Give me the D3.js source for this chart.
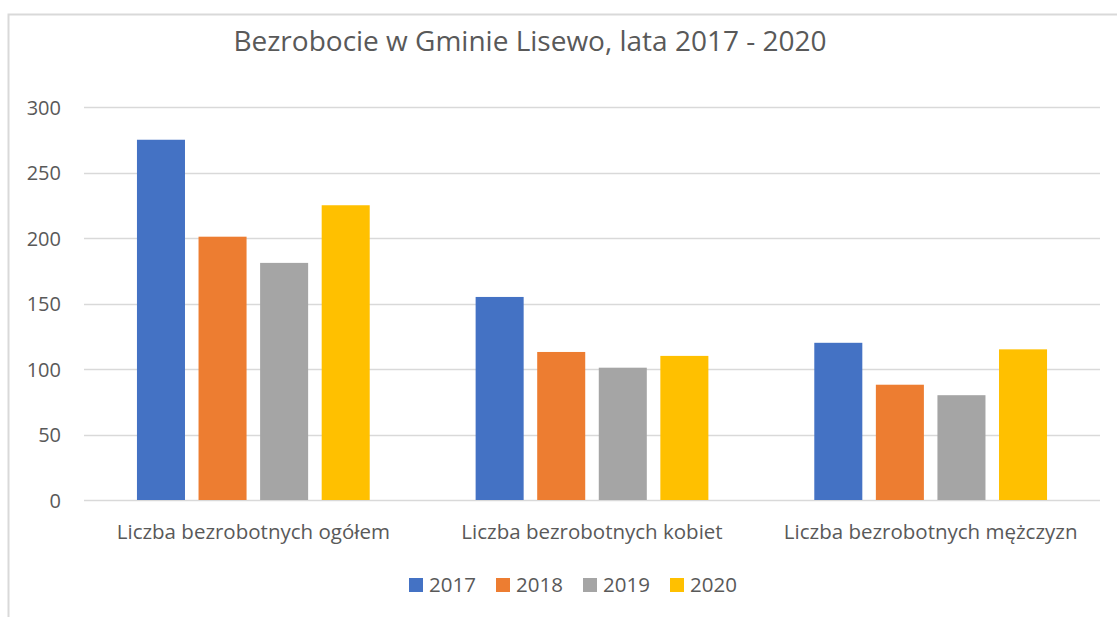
<!DOCTYPE html>
<html>
<head>
<meta charset="utf-8">
<script src="https://cdn.jsdelivr.net/npm/d3@7"></script>
<style>
html,body{margin:0;padding:0;background:#fff;}
svg{display:block;}
text{font-family:"Open Sans","Segoe UI",sans-serif;fill:#595959;}
</style>
</head>
<body>
<svg id="chart" width="1117" height="617"></svg>
<script>
const title = "Bezrobocie w Gminie Lisewo, lata 2017 - 2020";
const categories = ["Liczba bezrobotnych ogółem", "Liczba bezrobotnych kobiet", "Liczba bezrobotnych mężczyzn"];
const seriesNames = ["2017", "2018", "2019", "2020"];
const values2017 = [275, 155, 120];
const values2018 = [201, 113, 88];
const values2019 = [181, 101, 80];
const values2020 = [225, 110, 115];
const colors = ["#4472C4", "#ED7D31", "#A5A5A5", "#FFC000"];
const yTicks = [0, 50, 100, 150, 200, 250, 300];

const series = [values2017, values2018, values2019, values2020];
const svg = d3.select("#chart");

// chart border
svg.append("rect").attr("x", 8.5).attr("y", 14.5).attr("width", 1200).attr("height", 700)
  .attr("fill", "none").attr("stroke", "#d9d9d9").attr("stroke-width", 2);

const pLeft = 84, pRight = 1100, pTop = 107, pBottom = 500;
const y = d3.scaleLinear().domain([0, 300]).range([pBottom, pTop]);
const x0 = d3.scaleBand().domain(categories).range([pLeft, pRight]).paddingInner(0).paddingOuter(0);
const x1 = d3.scaleBand().domain(seriesNames).range([0, x0.bandwidth()]).paddingInner(0.22).paddingOuter(0.86);

// gridlines
svg.append("g").selectAll("line").data(yTicks).join("line")
  .attr("x1", pLeft).attr("x2", pRight)
  .attr("y1", d => Math.round(y(d)) + 0.5).attr("y2", d => Math.round(y(d)) + 0.5)
  .attr("stroke", "#d9d9d9").attr("stroke-width", 1.5);

// y axis labels
const yAxis = d3.axisLeft(y).tickValues(yTicks).tickSize(0).tickPadding(0);
const ya = svg.append("g").attr("transform", `translate(61,0)`).call(yAxis);
ya.select(".domain").remove();
ya.selectAll("text").attr("font-size", 20).attr("fill", "#595959")
  .style("font-family", '"Open Sans",sans-serif').attr("dy", "0.35em");

// bars
const groups = svg.append("g").selectAll("g").data(categories).join("g")
  .attr("transform", c => `translate(${x0(c)},0)`);
groups.selectAll("rect").data((c, ci) => seriesNames.map((s, si) => ({s, si, v: series[si][ci]})))
  .join("rect")
  .attr("x", d => x1(d.s)).attr("width", x1.bandwidth())
  .attr("y", d => y(d.v)).attr("height", d => y(0) - y(d.v))
  .attr("fill", d => colors[d.si]);

// x axis labels
const xAxis = d3.axisBottom(x0).tickSize(0).tickPadding(0);
const xa = svg.append("g").attr("transform", `translate(0,${pBottom})`).call(xAxis);
xa.select(".domain").remove();
xa.selectAll("text").attr("font-size", 20.5).attr("fill", "#595959")
  .style("font-family", '"Open Sans",sans-serif').attr("y", 39).attr("dy", 0);

// title
svg.append("text").attr("x", 530).attr("y", 51).attr("text-anchor", "middle")
  .attr("font-size", 28).style("font-family", '"Open Sans",sans-serif').attr("fill", "#595959")
  .text(title);

// legend
const legendX = [409, 496, 583, 670];
const lg = svg.append("g").selectAll("g").data(seriesNames).join("g")
  .attr("transform", (d, i) => `translate(${legendX[i]},578)`);
lg.append("rect").attr("width", 14).attr("height", 14).attr("fill", (d, i) => colors[i]);
lg.append("text").attr("x", 20).attr("y", 7).attr("dy", "0.35em").attr("font-size", 20.5)
  .style("font-family", '"Open Sans",sans-serif').text(d => d);
</script>
</body>
</html>
